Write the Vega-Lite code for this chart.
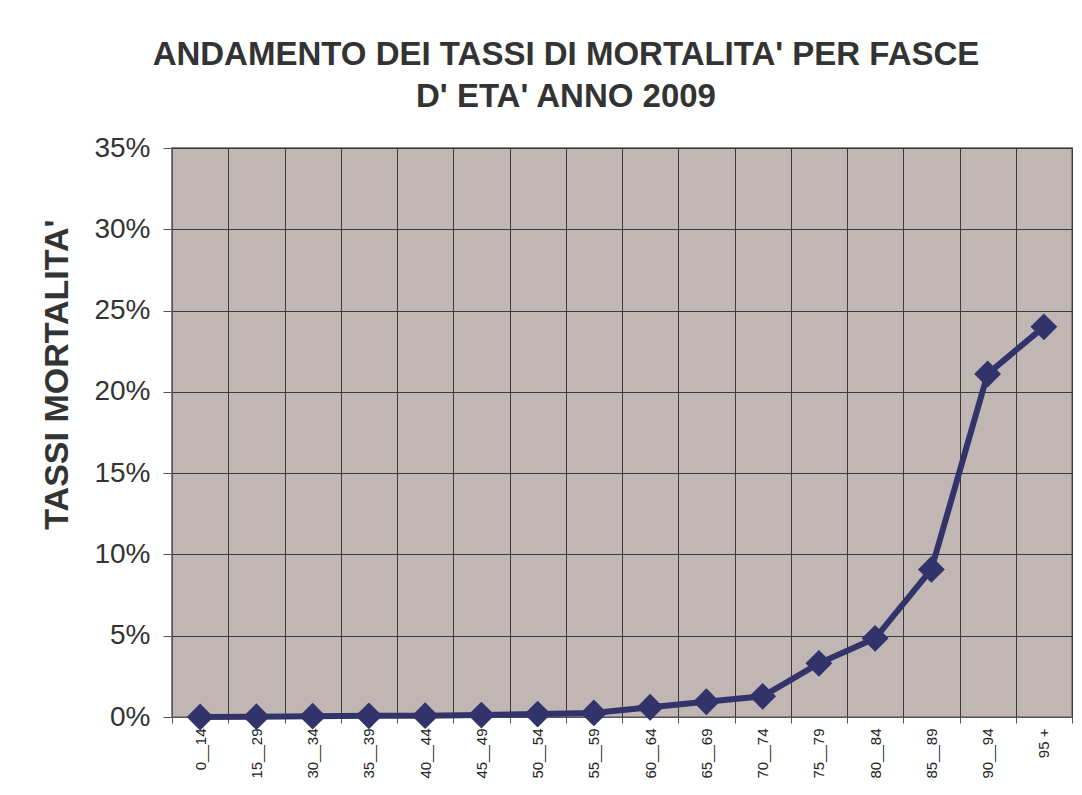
{
  "$schema": "https://vega.github.io/schema/vega-lite/v6.json",
  "width": 900,
  "height": 569,
  "autosize": {"type": "none"},
  "padding": {"left": 172, "top": 148, "right": 10, "bottom": 78},
  "background": "white",
  "title": {
    "text": ["ANDAMENTO DEI TASSI DI MORTALITA' PER FASCE", "D' ETA' ANNO 2009"],
    "font": "Liberation Sans",
    "fontSize": 33,
    "fontWeight": "bold",
    "color": "#333333",
    "lineHeight": 42,
    "anchor": "middle",
    "dx": -56,
    "offset": 20
  },
  "data": {
    "values": [
      {"fascia": "0__14", "tasso": 0.0},
      {"fascia": "15__29", "tasso": 0.0002},
      {"fascia": "30__34", "tasso": 0.0005},
      {"fascia": "35__39", "tasso": 0.0007},
      {"fascia": "40__44", "tasso": 0.0008},
      {"fascia": "45__49", "tasso": 0.0012},
      {"fascia": "50__54", "tasso": 0.0018},
      {"fascia": "55__59", "tasso": 0.0025},
      {"fascia": "60__64", "tasso": 0.006},
      {"fascia": "65__69", "tasso": 0.0094},
      {"fascia": "70__74", "tasso": 0.0127},
      {"fascia": "75__79", "tasso": 0.033},
      {"fascia": "80__84", "tasso": 0.0484},
      {"fascia": "85__89", "tasso": 0.0908},
      {"fascia": "90__94", "tasso": 0.211},
      {"fascia": "95 +", "tasso": 0.240}
    ]
  },
  "encoding": {
    "x": {
      "field": "fascia",
      "type": "ordinal",
      "sort": null,
      "scale": {"paddingInner": 0, "paddingOuter": 0},
      "axis": {
        "title": null,
        "labelAngle": -90,
        "labelFont": "Liberation Sans",
        "labelFontSize": 15,
        "labelColor": "#222222",
        "labelPadding": 5,
        "tickBand": "extent",
        "ticks": true,
        "tickSize": 6,
        "tickColor": "#555555",
        "domain": true,
        "domainColor": "#555555",
        "domainWidth": 1,
        "grid": true,
        "gridColor": "#3a3a3a",
        "gridWidth": 1
      }
    },
    "y": {
      "field": "tasso",
      "type": "quantitative",
      "scale": {"domain": [0, 0.35], "nice": false},
      "axis": {
        "title": "TASSI MORTALITA'",
        "titleFont": "Liberation Sans",
        "titleFontSize": 34,
        "titleFontWeight": "bold",
        "titleColor": "#333333",
        "titleX": -115,
        "titleY": 226,
        "titleAngle": -90,
        "titleAlign": "center",
        "titleBaseline": "middle",
        "values": [0, 0.05, 0.1, 0.15, 0.2, 0.25, 0.3, 0.35],
        "format": ".0%",
        "labelFont": "Liberation Sans",
        "labelFontSize": 28,
        "labelColor": "#333333",
        "labelPadding": 13,
        "tickSize": 9,
        "tickColor": "#555555",
        "domain": true,
        "domainColor": "#555555",
        "grid": true,
        "gridColor": "#3a3a3a",
        "gridWidth": 1
      }
    }
  },
  "layer": [
    {
      "mark": {"type": "line", "color": "#32336A", "strokeWidth": 6}
    },
    {
      "mark": {"type": "point", "shape": "diamond", "filled": true, "size": 720, "color": "#32336A", "opacity": 1}
    }
  ],
  "config": {
    "view": {"fill": "#C0B7B4", "stroke": "#8C8282", "strokeWidth": 2}
  }
}
